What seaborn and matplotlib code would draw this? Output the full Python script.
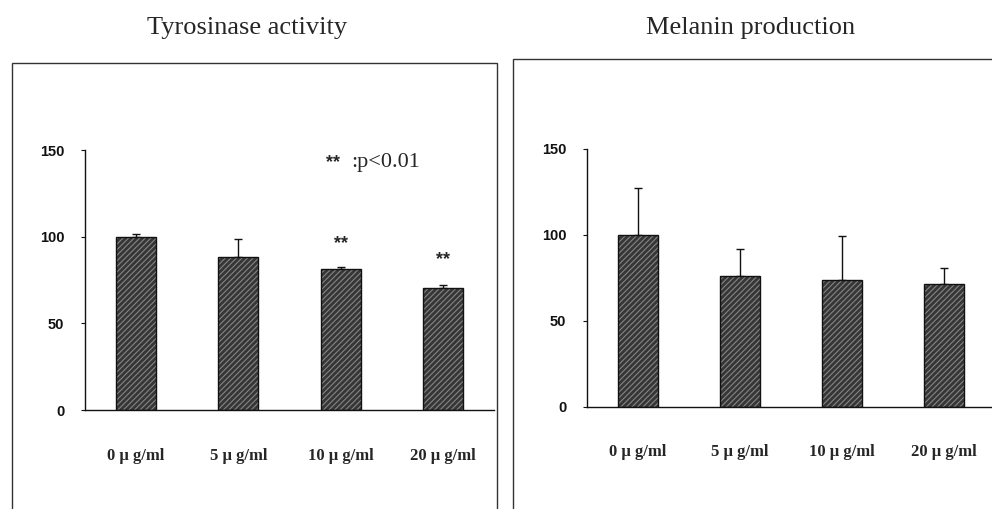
import matplotlib
matplotlib.use('Agg')
import matplotlib.pyplot as plt
from matplotlib.patches import Rectangle
import seaborn as sns
import pandas as pd

# Datos
doses = ['0 μ g/ml', '5 μ g/ml', '10 μ g/ml', '20 μ g/ml']
tyr_mean = [100, 88.3, 81.4, 70.4]
tyr_err = [1.5, 10.4, 1.3, 1.9]
mel_mean = [100, 76.3, 73.8, 71.5]
mel_err = [27.3, 15.6, 25.6, 9.3]
titles = ['Tyrosinase activity', 'Melanin production']
yticks = [0, 50, 100, 150]

sns.set_style('white')
plt.rcParams['font.family'] = ['Liberation Sans', 'DejaVu Sans']
plt.rcParams['hatch.linewidth'] = 0.8

fig = plt.figure(figsize=(9.92, 5.09), dpi=100)
W, H = 992, 509


def px_axes(left, top, right, bottom):
    return fig.add_axes([left / W, 1 - bottom / H, (right - left) / W, (bottom - top) / H])


def draw_panel(ax, means, errs):
    df = pd.DataFrame({'dose': doses, 'value': means})
    sns.barplot(data=df, x='dose', y='value', color='#363636', saturation=1, width=0.39,
                errorbar=None, ax=ax, zorder=2)
    for p in list(ax.patches):
        p.set_hatch('//////')
        p.set_edgecolor('#858585')
        p.set_linewidth(0)
        ax.add_patch(Rectangle(p.get_xy(), p.get_width(), p.get_height(),
                               fill=False, edgecolor='#111111', lw=1.0, zorder=3))
    ax.errorbar(range(len(means)), means, yerr=[[0] * len(errs), errs], fmt='none',
                ecolor='#111111', elinewidth=1.0, capsize=3, capthick=1.0, zorder=1)
    ax.set_xlim(-0.5, 3.5)
    ax.set_ylim(0, 150)
    ax.set_yticks(yticks)
    ax.set_xlabel('')
    ax.set_ylabel('')
    for s in ['top', 'right']:
        ax.spines[s].set_visible(False)
    for s in ['left', 'bottom']:
        ax.spines[s].set_color('#111111')
        ax.spines[s].set_linewidth(1.0)
    ax.tick_params(axis='y', length=3, pad=12, labelsize=10.5, colors='#111111', direction='out', left=True)
    ax.tick_params(axis='x', length=0, pad=27)
    for lab in ax.get_xticklabels():
        lab.set_fontfamily('Liberation Serif')
        lab.set_fontweight('bold')
        lab.set_fontsize(12)
    for lab in ax.get_yticklabels():
        lab.set_fontweight('bold')
    ax.patch.set_alpha(0)


ax1 = px_axes(85, 150, 494, 410)
draw_panel(ax1, tyr_mean, tyr_err)
ax1.text(2, 96, '**', ha='center', va='center', fontsize=13, fontweight='bold')
ax1.text(3, 87, '**', ha='center', va='center', fontsize=13, fontweight='bold')
ax1.text(1.86, 143, '**', ha='left', va='center', fontsize=13, fontweight='bold')
ax1.text(2.1, 143, ':p<0.01', ha='left', va='center', fontsize=16, family='Liberation Serif')

ax2 = px_axes(587, 149, 995, 407)
draw_panel(ax2, mel_mean, mel_err)

# marcos de los paneles
fig.patches.append(Rectangle((12 / W, -0.05), 485 / W, (509 - 63) / H + 0.05,
                             transform=fig.transFigure, fill=False, edgecolor='#333333', lw=1.0))
fig.patches.append(Rectangle((513 / W, -0.05), 0.6, (509 - 59) / H + 0.05,
                             transform=fig.transFigure, fill=False, edgecolor='#333333', lw=1.0))

fig.text(247 / W, 1 - 28 / H, titles[0], ha='center', va='center', fontsize=19, family='Liberation Serif')
fig.text(751 / W, 1 - 28 / H, titles[1], ha='center', va='center', fontsize=19, family='Liberation Serif')

fig.savefig('out.png', dpi=100)
